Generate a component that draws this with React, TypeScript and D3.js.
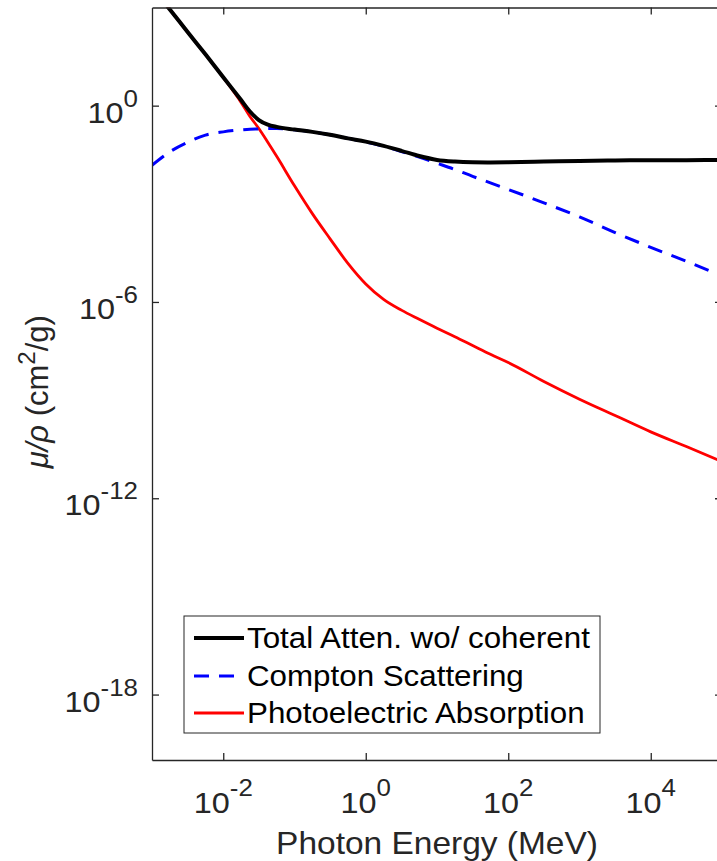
import { useEffect, useRef } from 'react';
import * as d3 from 'd3';

// photon energy grid (MeV) and mass attenuation coefficients (cm^2/g)
const energyMeV = [
  1e-3, 1.78e-3, 3.16e-3, 5.62e-3, 1e-2, 1.78e-2, 2.37e-2, 3.16e-2, 4.22e-2, 5.62e-2,
  0.1, 0.178, 0.316, 0.562, 1, 1.78, 3.16, 5.62, 10, 17.8, 31.6, 56.2, 100,
  316, 1000, 3160, 1e4, 3.16e4, 1e5,
];
const totalAtten = [
  4.17e3, 8.71e2, 1.78e2, 37.2, 7.41, 1.48, 0.661, 0.363, 0.263, 0.224,
  0.186, 0.158, 0.129, 0.1, 0.0794, 0.0589, 0.0417, 0.0288, 0.0219, 0.0195, 0.0186, 0.0184, 0.0186,
  0.0195, 0.0204, 0.0211, 0.0214, 0.0216, 0.0219,
];
const compton = [
  0.0151, 0.0389, 0.0759, 0.126, 0.158, 0.182, 0.191, 0.195, 0.2, 0.2,
  0.182, 0.158, 0.129, 0.1, 0.0776, 0.0575, 0.0398, 0.0269, 0.0174, 0.0112, 6.92e-3, 4.37e-3, 2.75e-3,
  1.07e-3, 3.98e-4, 1.32e-4, 4.68e-5, 1.74e-5, 6.31e-6,
];
const photoelectric = [
  4.17e3, 8.71e2, 1.78e2, 37.2, 7.24, 1.26, 0.468, 0.2, 0.0759, 0.0282,
  3.55e-3, 5.01e-4, 8.51e-5, 1.51e-5, 3.55e-6, 1.2e-6, 5.62e-7, 2.95e-7, 1.58e-7, 8.71e-8, 4.68e-8, 2.51e-8, 1.41e-8,
  3.72e-9, 1.07e-9, 3.39e-10, 1.07e-10, 3.8e-11, 1.32e-11,
];

const xTickExps = [-2, 0, 2, 4];
const yTickExps = [0, -6, -12, -18];
const legendLabels = ['Total Atten. wo/ coherent', 'Compton Scattering', 'Photoelectric Absorption'];

const FONT = '"Liberation Sans", Arial, Helvetica, sans-serif';
const AXIS = '#262626';
const STRETCH = 1.08; // the reference text is a little wider than Arial

export default function App() {
  const svgRef = useRef<SVGSVGElement>(null);

  useEffect(() => {
    if (!svgRef.current) return;
    const svg = d3.select(svgRef.current);
    svg.selectAll('*').remove();

    const left = 152, right = 722, top = 7.5, bottom = 760;
    const x = d3.scaleLog().domain([1e-3, 1e5]).range([left, right]);
    const y = d3.scaleLog().domain([1e-20, 1e3]).range([bottom, top]);

    svg.append('defs').append('clipPath').attr('id', 'plot-clip')
      .append('rect')
      .attr('x', left).attr('y', top)
      .attr('width', right - left).attr('height', bottom - top);

    const series = [
      { values: photoelectric, color: '#ff0000', width: 2.8, dash: null },
      { values: compton, color: '#0000ff', width: 3, dash: '15 10' },
      { values: totalAtten, color: '#000000', width: 4, dash: null },
    ];

    const g = svg.append('g').attr('clip-path', 'url(#plot-clip)');
    series.forEach(s => {
      const line = d3.line<number>()
        .x((_, i) => x(energyMeV[i]))
        .y(d => y(d))
        .curve(d3.curveMonotoneX);
      g.append('path')
        .attr('d', line(s.values))
        .attr('fill', 'none')
        .attr('stroke', s.color)
        .attr('stroke-width', s.width)
        .attr('stroke-dasharray', s.dash)
        .attr('stroke-linejoin', 'round');
    });

    // axes, ticks pointing inward
    const xTicks = xTickExps.map(e => Math.pow(10, e));
    const yTicks = yTickExps.map(e => Math.pow(10, e));
    const styleAxis = (sel: any) => {
      sel.select('.domain').attr('stroke', AXIS).attr('stroke-width', 1.3);
      sel.selectAll('.tick line').attr('stroke', AXIS).attr('stroke-width', 1.3);
      sel.selectAll('.tick text').remove();
    };
    svg.append('g').attr('transform', `translate(0,${bottom})`)
      .call(d3.axisBottom(x).tickValues(xTicks).tickSizeInner(-7).tickSizeOuter(0))
      .call(styleAxis);
    svg.append('g').attr('transform', `translate(0,${top})`)
      .call(d3.axisTop(x).tickValues(xTicks).tickSizeInner(-7).tickSizeOuter(0))
      .call(styleAxis);
    svg.append('g').attr('transform', `translate(${left},0)`)
      .call(d3.axisLeft(y).tickValues(yTicks).tickSizeInner(-7).tickSizeOuter(0))
      .call(styleAxis);
    svg.append('g').attr('transform', `translate(${right},0)`)
      .call(d3.axisRight(y).tickValues(yTicks).tickSizeInner(-7).tickSizeOuter(0))
      .call(styleAxis);

    // tick labels 10^n
    const powLabel = (tx: number, ty: number, anchor: string, e: number, dy: number) => {
      const t = svg.append('text')
        .attr('transform', `translate(${tx},${ty}) scale(${STRETCH},1)`)
        .attr('text-anchor', anchor)
        .attr('font-family', FONT).attr('font-size', 30).attr('fill', AXIS);
      t.append('tspan').text('10');
      t.append('tspan').attr('dy', dy).attr('font-size', 24).text(String(e));
    };
    xTickExps.forEach(e => powLabel(x(Math.pow(10, e)), 813, 'middle', e, -17));
    yTickExps.forEach(e => powLabel(138, y(Math.pow(10, e)) + 17, 'end', e, -16));

    // axis titles
    svg.append('text')
      .attr('transform', `translate(${(left + right) / 2},854) scale(${STRETCH},1)`)
      .attr('text-anchor', 'middle')
      .attr('font-family', FONT).attr('font-size', 31).attr('fill', AXIS)
      .text('Photon Energy (MeV)');

    const yl = svg.append('text')
      .attr('transform', `translate(48,${(top + bottom) / 2 + 8}) rotate(-90)`)
      .attr('text-anchor', 'middle')
      .attr('font-family', FONT).attr('font-size', 31).attr('fill', AXIS);
    yl.append('tspan').attr('font-style', 'italic').text('\u03bc/\u03c1');
    yl.append('tspan').text(' (cm');
    yl.append('tspan').attr('dy', -13).attr('font-size', 24).text('2');
    yl.append('tspan').attr('dy', 13).text('/g)');

    // legend
    const lg = svg.append('g');
    lg.append('rect')
      .attr('x', 184).attr('y', 616).attr('width', 416).attr('height', 117)
      .attr('fill', '#fff').attr('stroke', AXIS).attr('stroke-width', 1);
    const rowY = [638, 676, 713];
    const legendSeries = [series[2], series[1], series[0]];
    legendLabels.forEach((label, i) => {
      const s = legendSeries[i];
      lg.append('line')
        .attr('x1', 194).attr('x2', 244)
        .attr('y1', rowY[i]).attr('y2', rowY[i])
        .attr('stroke', s.color).attr('stroke-width', s.width)
        .attr('stroke-dasharray', s.dash);
      lg.append('text')
        .attr('transform', `translate(247,${rowY[i] + 10}) scale(${STRETCH},1)`)
        .attr('font-family', FONT).attr('font-size', 29).attr('fill', '#000')
        .text(label);
    });
  }, []);

  return (
    <svg
      ref={svgRef}
      width={717}
      height={861}
      style={{ position: 'absolute', left: 0, top: 0, background: '#fff' }}
    />
  );
}
